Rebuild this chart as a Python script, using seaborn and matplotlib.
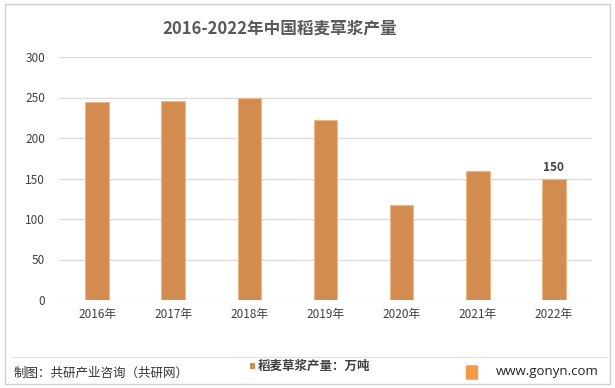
import numpy as np
import pandas as pd
import matplotlib
matplotlib.use("Agg")
import matplotlib.pyplot as plt
import seaborn as sns
from matplotlib.patches import Rectangle, FancyBboxPatch

years = ["2016年", "2017年", "2018年", "2019年", "2020年", "2021年", "2022年"]
output = [244, 246, 249, 222, 117, 159, 150]
series_name = "稻麦草浆产量：万吨"

df = pd.DataFrame({"year": years, "value": output})

sns.set_theme(style="white")
plt.rcParams['font.family'] = ['Noto Sans CJK SC', 'DejaVu Sans']

fig = plt.figure(figsize=(6.15, 3.88), dpi=100)
ax = fig.add_axes([59/615, 1-300/388, (592-59)/615, (300-57)/388])

bar_col = "#D38C4F"
sns.barplot(data=df, x="year", y="value", color=bar_col, width=0.31,
            edgecolor="#EDB985", linewidth=0.8, saturation=1, ax=ax, zorder=3)

ax.set_ylim(0, 300)
ax.set_xlim(-0.5, len(years) - 0.5)
ax.set_yticks(range(0, 301, 50))
ax.yaxis.grid(True, color="#D9D9D9", linewidth=0.9, zorder=0)
ax.set_axisbelow(True)
for s in ax.spines.values():
    s.set_visible(False)
ax.set_xlabel("")
ax.set_ylabel("")
ax.tick_params(axis="both", length=0, labelsize=8.5, labelcolor="#404040")
ax.tick_params(axis="y", pad=10)
ax.tick_params(axis="x", pad=6)

# label only last bar
ax.text(len(years) - 1, output[-1] + 5, str(output[-1]), ha="center", va="bottom",
        fontsize=8.5, fontweight="bold", color="#404040")

fig.text(0.455, 1-28/388, "2016-2022年中国稻麦草浆产量", ha="center", va="center",
         fontsize=12, fontweight="bold", color="#595959")

# outer border
fig.patches.append(Rectangle((5/615, 4/388), 605/615, 380/388, transform=fig.transFigure,
                             fill=False, edgecolor="#D0D0D0", linewidth=1))
fig.add_artist(plt.Line2D([12/615, 608/615], [1-357/388, 1-357/388],
                          color="#E0E0E0", linewidth=0.8, transform=fig.transFigure))

# footer
fig.text(14/615, 1-373/388, "制图：共研产业咨询（共研网）", ha="left", va="center",
         fontsize=9, color="#333333")
fig.patches.append(Rectangle((250/615, 1-369/388), 5/615, 6/388, transform=fig.transFigure,
                             facecolor=bar_col, edgecolor="none"))
fig.text(258/615, 1-366/388, series_name, ha="left", va="center",
         fontsize=9, fontweight="bold", color="#404040")
fig.patches.append(FancyBboxPatch((467/615, 1-379/388), 10/615, 13/388,
                                  boxstyle="round,pad=0.002", transform=fig.transFigure,
                                  facecolor="#F39A4A", edgecolor="none"))
fig.text(599/615, 1-372/388, "www.gonyn.com", ha="right", va="center",
         fontsize=9.5, color="#222222", family=["Open Sans", "DejaVu Sans"])

fig.savefig("out.png", dpi=100)
